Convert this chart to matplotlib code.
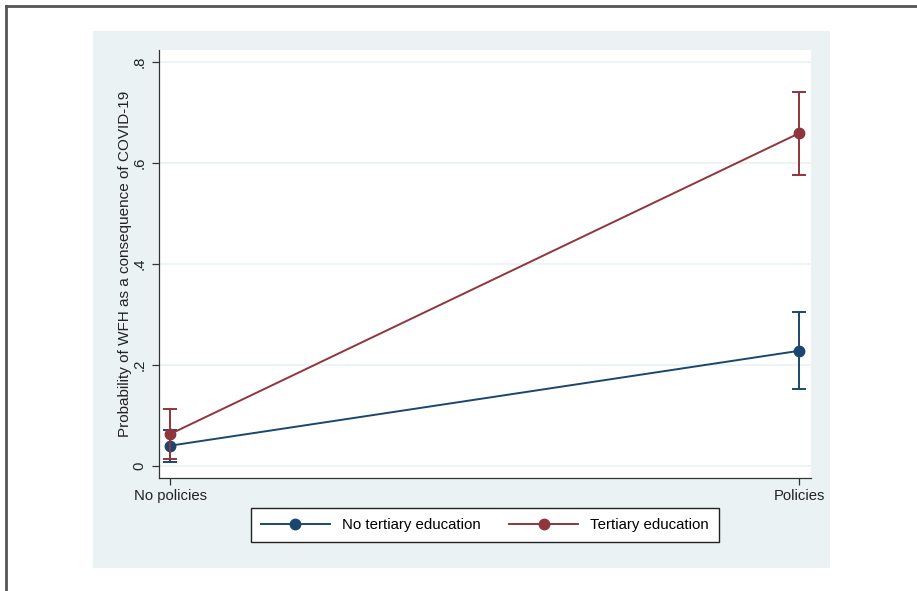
import matplotlib
matplotlib.use('Agg')

import matplotlib.pyplot as plt
from matplotlib.patches import Rectangle
from matplotlib.lines import Line2D

# Margins plot data
categories = ['No policies', 'Policies']
no_tertiary = [0.040, 0.228]
no_tertiary_lo = [0.008, 0.152]
no_tertiary_hi = [0.072, 0.304]
tertiary = [0.063, 0.659]
tertiary_lo = [0.014, 0.576]
tertiary_hi = [0.113, 0.741]
yticks = [0, 0.2, 0.4, 0.6, 0.8]
yticklabels = ['0', '.2', '.4', '.6', '.8']

NAVY = '#1a476f'
MAROON = '#90353b'
PANEL = '#eaf2f3'

W, H = 917, 591
plt.rcParams['font.family'] = ['Liberation Sans', 'DejaVu Sans']

fig = plt.figure(figsize=(W / 100, H / 100), dpi=100)

def px(x0, y0, x1, y1):
  # pixel box (top-left origin) -> figure fraction rect
  return [x0 / W, 1 - y1 / H, (x1 - x0) / W, (y1 - y0) / H]

# Stata-like graph region
r = px(93, 31, 830, 568)
fig.patches.append(Rectangle((r[0], r[1]), r[2], r[3], transform=fig.transFigure,
                             facecolor=PANEL, edgecolor='none', zorder=-5))
# outer frame (top and left edges)
fig.add_artist(Line2D([5.5 / W, 1], [1 - 5.5 / H] * 2, transform=fig.transFigure,
                      color='#555555', lw=2))
fig.add_artist(Line2D([5.5 / W] * 2, [0, 1 - 5.5 / H], transform=fig.transFigure,
                      color='#555555', lw=2))

ax = fig.add_axes(px(159, 50, 811, 478))
ax.set_zorder(1)
ax.set_facecolor('white')

x = list(range(len(categories)))
ax.errorbar(x, no_tertiary,
            yerr=[[v - lo for v, lo in zip(no_tertiary, no_tertiary_lo)],
                  [hi - v for v, hi in zip(no_tertiary, no_tertiary_hi)]],
            color=NAVY, marker='o', markersize=7.5, lw=1.4, capsize=5,
            elinewidth=1.4, capthick=1.4, label='No tertiary education', zorder=3)
ax.errorbar(x, tertiary,
            yerr=[[v - lo for v, lo in zip(tertiary, tertiary_lo)],
                  [hi - v for v, hi in zip(tertiary, tertiary_hi)]],
            color=MAROON, marker='o', markersize=7.5, lw=1.4, capsize=5,
            elinewidth=1.4, capthick=1.4, label='Tertiary education', zorder=4)

ax.set_xlim(-0.0175, 1.019)
ax.set_ylim(-0.024, 0.824)
ax.set_xticks(x)
ax.set_xticklabels(categories, fontsize=10.7, color='#222222')
ax.set_yticks(yticks)
ax.set_yticklabels(yticklabels, rotation=90, va='center', fontsize=10.7, color='#222222')
ax.grid(axis='y', color=PANEL, lw=1.2)
ax.set_axisbelow(True)
ax.tick_params(axis='both', length=5, width=0.9, color='#333333', pad=4)
ax.tick_params(axis='x', pad=3)
for s in ('top', 'right'):
  ax.spines[s].set_visible(False)
for s in ('left', 'bottom'):
  ax.spines[s].set_color('#333333')
  ax.spines[s].set_linewidth(0.9)

ax.set_ylabel('Probability of WFH as a consequence of COVID-19', fontsize=11,
              color='#222222', labelpad=0.5)

handles = [Line2D([], [], color=NAVY, marker='o', markersize=7.5, lw=1.4),
           Line2D([], [], color=MAROON, marker='o', markersize=7.5, lw=1.4)]
leg = fig.legend(handles, ['No tertiary education', 'Tertiary education'],
                 loc='center', bbox_to_anchor=(485 / W, 1 - 525 / H), ncol=2,
                 fontsize=10.8, frameon=True, fancybox=False, handlelength=4.6,
                 columnspacing=1.9, handletextpad=0.8, borderpad=0.65)
leg.get_frame().set_edgecolor('#222222')
leg.get_frame().set_linewidth(1.0)
leg.get_frame().set_alpha(1.0)

fig.savefig('out.png', dpi=100)
